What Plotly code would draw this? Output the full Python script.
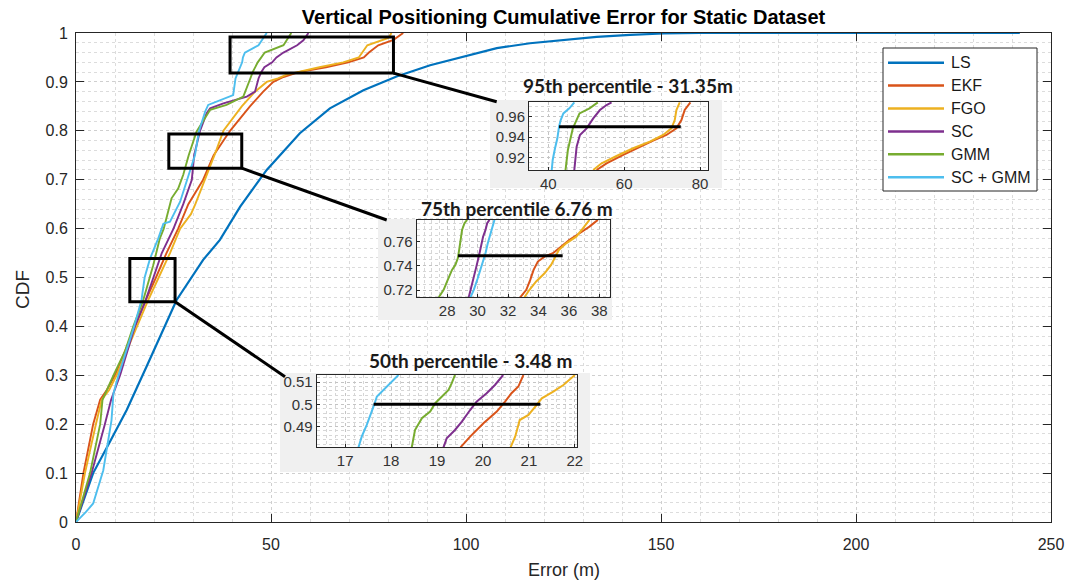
import plotly.graph_objects as go

# ---------------- canvas / layout constants ----------------
W, H = 1083, 585
ML, MR, MT, MB = 76, 32, 33, 63
PW, PH = W - ML - MR, H - MT - MB
X_MAX = 250.0
FONT = "Liberation Sans, Arial, sans-serif"
AX = "#262626"

names = ["LS", "EKF", "FGO", "SC", "GMM", "SC + GMM"]
colors = ["#0072BD", "#D95319", "#EDB120", "#7E2F8E", "#77AC30", "#4DBEEE"]

# ---------------- main CDF curves (error m, CDF) ----------------
ls_err = [0, 4.4, 8.7, 13.0, 18.1, 21.5, 25.8, 32.6, 36.9, 42.1, 48.9, 57.4, 65.1, 73.7,
          82.2, 90.8, 99.3, 107.9, 116.4, 125.0, 133.5, 142.1, 150.6, 160.0, 242.0]
ls_cdf = [0, 0.10, 0.164, 0.229, 0.318, 0.379, 0.454, 0.536, 0.577, 0.645, 0.720, 0.795, 0.846, 0.883,
          0.911, 0.934, 0.951, 0.969, 0.979, 0.986, 0.992, 0.996, 0.999, 1.0, 1.0]

ekf_err = [0, 1.9, 4.4, 6.2, 7.9, 10.0, 12.6, 15.1, 17.7, 20.5, 23.2, 26.2, 28.8, 32.6, 35.3,
           39.5, 44.6, 48.0, 50.6, 53.2, 57.1, 64.1, 69.8, 73.8, 75.1, 77.5, 81.4, 83.9]
ekf_cdf = [0, 0.10, 0.20, 0.25, 0.27, 0.30, 0.35, 0.40, 0.45, 0.50, 0.55, 0.60, 0.65, 0.70, 0.75,
           0.80, 0.85, 0.88, 0.90, 0.91, 0.92, 0.93, 0.94, 0.95, 0.96, 0.975, 0.986, 1.0]

fgo_err = [0, 2.3, 5.1, 6.6, 8.5, 10.4, 13.0, 15.6, 18.3, 21.2, 24.1, 26.7, 29.5, 30.6, 33.1, 35.5,
           37.8, 42.5, 45.9, 48.9, 51.8, 54.0, 62.4, 68.5, 72.5, 73.3, 74.7, 80.1, 80.9]
fgo_cdf = [0, 0.10, 0.20, 0.25, 0.27, 0.30, 0.35, 0.40, 0.45, 0.50, 0.55, 0.60, 0.63, 0.65, 0.70, 0.75,
           0.80, 0.85, 0.88, 0.90, 0.907, 0.915, 0.93, 0.94, 0.95, 0.96, 0.975, 0.99, 1.0]

sc_err = [0, 4.0, 7.4, 9.0, 11.3, 13.2, 15.1, 17.7, 19.8, 22.0, 25.0, 27.5, 29.7, 30.3, 31.8,
          33.5, 34.4, 37.8, 43.8, 45.9, 46.8, 47.5, 48.3, 50.3, 51.4, 53.2, 56.7, 58.3, 59.6]
sc_cdf = [0, 0.10, 0.20, 0.25, 0.30, 0.35, 0.40, 0.45, 0.50, 0.55, 0.60, 0.65, 0.70, 0.75, 0.80,
          0.836, 0.846, 0.856, 0.87, 0.88, 0.907, 0.92, 0.93, 0.94, 0.95, 0.96, 0.975, 0.985, 1.0]

gmm_err = [0, 3.6, 6.2, 6.8, 9.6, 12.6, 14.7, 17.1, 18.9, 19.8, 21.5, 22.5, 24.5, 26.2, 27.5, 28.9,
           30.9, 34.4, 38.6, 42.9, 44.7, 45.3, 46.6, 47.5, 48.4, 53.2, 54.5, 55.2]
gmm_cdf = [0, 0.10, 0.20, 0.25, 0.30, 0.35, 0.40, 0.45, 0.50, 0.525, 0.58, 0.60, 0.662, 0.682, 0.71, 0.75,
           0.798, 0.843, 0.853, 0.87, 0.907, 0.92, 0.94, 0.95, 0.96, 0.975, 0.99, 1.0]

scg_err = [0, 2.5, 4.4, 7.0, 9.1, 9.6, 10.9, 13.0, 14.9, 16.8, 17.6, 19.0, 21.1, 22.4, 24.1, 26.7,
           28.4, 30.5, 31.5, 33.1, 33.9, 40.3, 40.9, 41.5, 42.6, 42.8, 43.3, 46.8, 48.0, 48.9]
scg_cdf = [0, 0.02, 0.038, 0.106, 0.208, 0.263, 0.30, 0.352, 0.40, 0.454, 0.50, 0.539, 0.58, 0.61, 0.614, 0.655,
           0.696, 0.75, 0.798, 0.839, 0.853, 0.873, 0.907, 0.92, 0.94, 0.95, 0.96, 0.975, 0.99, 1.0]

main_err = [ls_err, ekf_err, fgo_err, sc_err, gmm_err, scg_err]
main_cdf = [ls_cdf, ekf_cdf, fgo_cdf, sc_cdf, gmm_cdf, scg_cdf]

# ---------------- inset: 95th percentile ----------------
p95_title = "95th percentile - 31.35m"
p95_level = 0.9502
p95_span = [42.82, 74.92]
p95_xrange = [34.9, 82.1]
p95_yrange = [0.9075, 0.9745]
p95_xticks = [40, 60, 80]
p95_yticks = [0.92, 0.94, 0.96]
p95_ekf_err = [52.72, 55.35, 59.74, 64.12, 67.63, 71.14, 73.77, 75.09, 75.96, 77.46]
p95_ekf_cdf = [0.9075, 0.9141, 0.9223, 0.9302, 0.9364, 0.942, 0.9485, 0.9567, 0.9666, 0.9741]
p95_fgo_err = [51.84, 54.04, 57.98, 62.37, 66.75, 70.26, 72.46, 73.33, 73.77, 74.65]
p95_fgo_cdf = [0.9075, 0.9141, 0.9213, 0.9289, 0.9354, 0.942, 0.9485, 0.9567, 0.9666, 0.9741]
p95_sc_err = [46.85, 47.46, 48.33, 50.09, 51.84, 53.6, 55.35, 56.67]
p95_sc_cdf = [0.9075, 0.9305, 0.942, 0.9485, 0.9584, 0.9666, 0.9715, 0.9741]
p95_gmm_err = [44.53, 44.88, 45.15, 46.46, 47.34, 48.22, 50.85, 53.04]
p95_gmm_cdf = [0.9075, 0.9174, 0.9272, 0.9485, 0.9567, 0.9633, 0.9682, 0.9741]
p95_scg_err = [40.89, 41.15, 41.76, 42.38, 42.82, 43.26, 43.96, 45.54, 46.85]
p95_scg_cdf = [0.9075, 0.9174, 0.9289, 0.9387, 0.9502, 0.9567, 0.9633, 0.9682, 0.9741]

# ---------------- inset: 75th percentile ----------------
p75_title = "75th percentile 6.76 m"
p75_level = 0.7485
p75_span = [28.72, 35.59]
p75_xrange = [26.0, 38.7]
p75_yrange = [0.714, 0.778]
p75_xticks = [28, 30, 32, 34, 36, 38]
p75_yticks = [0.72, 0.74, 0.76]
p75_ekf_err = [32.8, 33.2, 33.46, 33.68, 33.96, 34.4, 34.95, 35.38, 36.04, 36.7, 37.35, 37.9]
p75_ekf_cdf = [0.714, 0.7202, 0.7284, 0.7367, 0.7436, 0.7477, 0.7505, 0.7546, 0.7615, 0.767, 0.7725, 0.7781]
p75_fgo_err = [33.08, 33.41, 33.85, 34.4, 34.83, 35.12, 35.34, 35.82, 36.48, 36.92, 37.35]
p75_fgo_cdf = [0.714, 0.7202, 0.7271, 0.7339, 0.7408, 0.7477, 0.7532, 0.7587, 0.7642, 0.7711, 0.7781]
p75_sc_err = [29.42, 29.53, 29.75, 29.92, 30.08, 30.19, 30.36, 30.52, 30.63, 30.78]
p75_sc_cdf = [0.714, 0.7202, 0.7298, 0.7394, 0.7477, 0.7546, 0.7642, 0.7698, 0.7753, 0.7781]
p75_gmm_err = [27.45, 27.77, 28.04, 28.32, 28.54, 28.7, 28.79, 28.87, 28.98, 29.14, 29.31]
p75_gmm_cdf = [0.714, 0.7202, 0.7284, 0.7367, 0.7408, 0.7463, 0.7532, 0.7615, 0.7698, 0.7753, 0.7781]
p75_scg_err = [29.53, 29.75, 30.01, 30.3, 30.52, 30.67, 30.85, 30.98, 31.11]
p75_scg_cdf = [0.714, 0.7202, 0.7298, 0.7408, 0.7505, 0.7587, 0.767, 0.7725, 0.7781]

# ---------------- inset: 50th percentile ----------------
p50_title = "50th percentile - 3.48 m"
p50_level = 0.5
p50_span = [17.62, 21.25]
p50_xrange = [16.38, 22.04]
p50_yrange = [0.4806, 0.5132]
p50_xticks = [17, 18, 19, 20, 21, 22]
p50_yticks = [0.49, 0.50, 0.51]
p50_ekf_err = [19.51, 19.72, 20.01, 20.3, 20.48, 20.62, 20.77, 20.88]
p50_ekf_cdf = [0.4806, 0.4854, 0.4914, 0.4967, 0.5012, 0.505, 0.508, 0.5132]
p50_fgo_err = [20.6, 20.7, 20.8, 20.99, 21.17, 21.28, 21.53, 21.75, 22.0]
p50_fgo_cdf = [0.4806, 0.4854, 0.4929, 0.4952, 0.4997, 0.5027, 0.5057, 0.5087, 0.5132]
p50_sc_err = [19.14, 19.21, 19.39, 19.54, 19.72, 19.86, 20.08, 20.26, 20.44]
p50_sc_cdf = [0.4806, 0.4847, 0.4884, 0.4922, 0.4974, 0.5012, 0.505, 0.5087, 0.5132]
p50_gmm_err = [18.45, 18.52, 18.67, 18.85, 18.96, 19.07, 19.25, 19.32, 19.39]
p50_gmm_cdf = [0.4806, 0.4884, 0.4937, 0.4967, 0.5005, 0.5027, 0.5065, 0.5095, 0.5132]
p50_scg_err = [17.29, 17.36, 17.47, 17.54, 17.63, 17.69, 17.83, 18.05, 18.16]
p50_scg_cdf = [0.4806, 0.4854, 0.4907, 0.4944, 0.4997, 0.5035, 0.5065, 0.511, 0.5132]

# zoom boxes on the main axes (error range, CDF range)
box95 = ([39.5, 81.4], [0.918, 0.992])
box75 = ([23.8, 42.5], [0.7235, 0.7935])
box50 = ([13.8, 25.4], [0.4505, 0.539])


# ---------------- helpers (pixel -> paper / data) ----------------
def paper_x(px):
    return (px - ML) / PW


def paper_y(py):
    return (H - MB - py) / PH


def data_x(px):
    return (px - ML) / PW * X_MAX


def data_y(py):
    return (H - MB - py) / PH


fig = go.Figure()

# main curves
for nm, col, xs, ys in zip(names, colors, main_err, main_cdf):
    fig.add_trace(go.Scatter(x=xs, y=ys, mode="lines", name=nm,
                             line=dict(color=col, width=2.2 if nm == "LS" else 1.9),
                             xaxis="x", yaxis="y", showlegend=False, hoverinfo="skip"))

insets = [
    dict(k=2, plot=(529, 708, 102, 170), panel=(490, 722, 100, 188),
         title=p95_title, tpos=(628, 85),
         xr=p95_xrange, yr=p95_yrange, xt=p95_xticks, yt=p95_yticks,
         xminor=5, yminor=0.005, level=p95_level, span=p95_span,
         series=[(p95_ekf_err, p95_ekf_cdf, 1), (p95_fgo_err, p95_fgo_cdf, 2),
                 (p95_sc_err, p95_sc_cdf, 3), (p95_gmm_err, p95_gmm_cdf, 4),
                 (p95_scg_err, p95_scg_cdf, 5)]),
    dict(k=3, plot=(416.7, 610, 220, 297.3), panel=(378, 612, 219, 320),
         title=p75_title, tpos=(516.5, 209),
         xr=p75_xrange, yr=p75_yrange, xt=p75_xticks, yt=p75_yticks,
         xminor=0.5, yminor=0.005, level=p75_level, span=p75_span,
         series=[(p75_ekf_err, p75_ekf_cdf, 1), (p75_fgo_err, p75_fgo_cdf, 2),
                 (p75_sc_err, p75_sc_cdf, 3), (p75_gmm_err, p75_gmm_cdf, 4),
                 (p75_scg_err, p75_scg_cdf, 5)]),
    dict(k=4, plot=(316.7, 576.7, 375, 447.3), panel=(280, 590, 373, 472),
         title=p50_title, tpos=(470, 360),
         xr=p50_xrange, yr=p50_yrange, xt=p50_xticks, yt=p50_yticks,
         xminor=0.2, yminor=0.002, level=p50_level, span=p50_span,
         series=[(p50_ekf_err, p50_ekf_cdf, 1), (p50_fgo_err, p50_fgo_cdf, 2),
                 (p50_sc_err, p50_sc_cdf, 3), (p50_gmm_err, p50_gmm_cdf, 4),
                 (p50_scg_err, p50_scg_cdf, 5)]),
]

shapes = []
annotations = []
layout_axes = {}

for ins in insets:
    k = ins["k"]
    xa, ya = f"x{k}", f"y{k}"
    for xs, ys, ci in ins["series"]:
        fig.add_trace(go.Scatter(x=xs, y=ys, mode="lines", line=dict(color=colors[ci], width=2),
                                 xaxis=xa, yaxis=ya, showlegend=False, hoverinfo="skip"))
    fig.add_trace(go.Scatter(x=ins["span"], y=[ins["level"], ins["level"]], mode="lines",
                             line=dict(color="black", width=3),
                             xaxis=xa, yaxis=ya, showlegend=False, hoverinfo="skip"))
    x0, x1, y0, y1 = ins["plot"]
    common = dict(showline=True, linecolor=AX, linewidth=1, mirror=True, ticks="inside",
                  ticklen=3, tickcolor=AX, showgrid=True, gridcolor="#c4c4c4", griddash="dot",
                  gridwidth=1, zeroline=False, tickfont=dict(family=FONT, size=15, color="#333333"),
                  fixedrange=True)
    layout_axes[f"xaxis{k}"] = dict(domain=[paper_x(x0), paper_x(x1)], anchor=ya, range=ins["xr"],
                                    tickvals=ins["xt"],
                                    minor=dict(dtick=ins["xminor"], tick0=0, showgrid=True,
                                               gridcolor="#d6d6d6", griddash="dot"),
                                    **common)
    layout_axes[f"yaxis{k}"] = dict(domain=[paper_y(y1), paper_y(y0)], anchor=xa, range=ins["yr"],
                                    tickvals=ins["yt"], ticktext=[f"{v:g}" for v in ins["yt"]],
                                    minor=dict(dtick=ins["yminor"], tick0=0, showgrid=True,
                                               gridcolor="#d6d6d6", griddash="dot"),
                                    **common)
    gx0, gx1, gy0, gy1 = ins["panel"]
    shapes.append(dict(type="rect", xref="x", yref="y", layer="between",
                       x0=data_x(gx0), x1=data_x(gx1), y0=data_y(gy1), y1=data_y(gy0),
                       fillcolor="#f0f0f0", line=dict(width=0)))
    tx, ty = ins["tpos"]
    annotations.append(dict(text=f"<b>{ins['title']}</b>", xref="paper", yref="paper",
                            x=paper_x(tx), y=paper_y(ty), xanchor="center", yanchor="middle",
                            showarrow=False, font=dict(family="Lato, Noto Sans, sans-serif",
                                                       size=19, color="#1a1a1a")))

connectors = [
    (box95, (data_x(496.7), data_y(101.7))),
    (box75, (data_x(386.7), data_y(220))),
    (box50, (data_x(285), data_y(376.7))),
]
for (bx, by), (cx, cy) in connectors:
    shapes.append(dict(type="rect", xref="x", yref="y", layer="above",
                       x0=bx[0], x1=bx[1], y0=by[0], y1=by[1],
                       line=dict(color="black", width=3), fillcolor="rgba(0,0,0,0)"))
    shapes.append(dict(type="line", xref="x", yref="y", layer="above",
                       x0=bx[1], y0=by[0], x1=cx, y1=cy,
                       line=dict(color="black", width=3)))

# custom legend (MATLAB style)
LEG_BOX = (883, 1037, 48, 191)
shapes.append(dict(type="rect", xref="paper", yref="paper", layer="above",
                   x0=paper_x(LEG_BOX[0]), x1=paper_x(LEG_BOX[1]),
                   y0=paper_y(LEG_BOX[3]), y1=paper_y(LEG_BOX[2]),
                   fillcolor="white", line=dict(color=AX, width=1)))
for i, (nm, col) in enumerate(zip(names, colors)):
    py = 62.7 + 22.9 * i
    shapes.append(dict(type="line", xref="paper", yref="paper", layer="above",
                       x0=paper_x(888), x1=paper_x(944), y0=paper_y(py), y1=paper_y(py),
                       line=dict(color=col, width=2.5)))
    annotations.append(dict(text=nm, xref="paper", yref="paper", x=paper_x(949), y=paper_y(py),
                            xanchor="left", yanchor="middle", showarrow=False,
                            font=dict(family=FONT, size=16, color="#1a1a1a")))

annotations.append(dict(text="Error (m)", xref="paper", yref="paper", x=0.5, y=paper_y(570),
                        xanchor="center", yanchor="middle", showarrow=False,
                        font=dict(family=FONT, size=18, color=AX)))
annotations.append(dict(text="CDF", xref="paper", yref="paper", x=paper_x(22), y=paper_y(290),
                        xanchor="center", yanchor="middle", showarrow=False, textangle=-90,
                        font=dict(family=FONT, size=19, color=AX)))

main_common = dict(showline=True, linecolor=AX, linewidth=1, mirror="ticks", ticks="inside",
                   ticklen=8, tickcolor=AX, showgrid=True, gridcolor="#cfcfcf", griddash="dot",
                   zeroline=False, tickfont=dict(family=FONT, size=16, color=AX), fixedrange=True)

fig.update_layout(
    width=W, height=H,
    margin=dict(l=ML, r=MR, t=MT, b=MB, pad=0),
    paper_bgcolor="white", plot_bgcolor="white",
    showlegend=False,
    title=dict(text="<b>Vertical Positioning Cumulative Error for Static Dataset</b>",
               x=0.5, xref="paper", xanchor="center", y=1 - 17 / H, yref="container",
               yanchor="middle", font=dict(family=FONT, size=20, color="black")),
    xaxis=dict(domain=[0, 1], anchor="y", range=[0, X_MAX], tickvals=[0, 50, 100, 150, 200, 250],
               minor=dict(dtick=10, tick0=0, showgrid=True, gridcolor="#dcdcdc", griddash="dot"),
               ticklabelstandoff=8, **main_common),
    yaxis=dict(domain=[0, 1], anchor="x", range=[0, 1], dtick=0.1, tick0=0,
               minor=dict(dtick=0.02, tick0=0, showgrid=True, gridcolor="#dcdcdc", griddash="dot"),
               ticklabelstandoff=4, **main_common),
    shapes=shapes,
    annotations=annotations,
    **layout_axes,
)

fig.write_html("out.html")
